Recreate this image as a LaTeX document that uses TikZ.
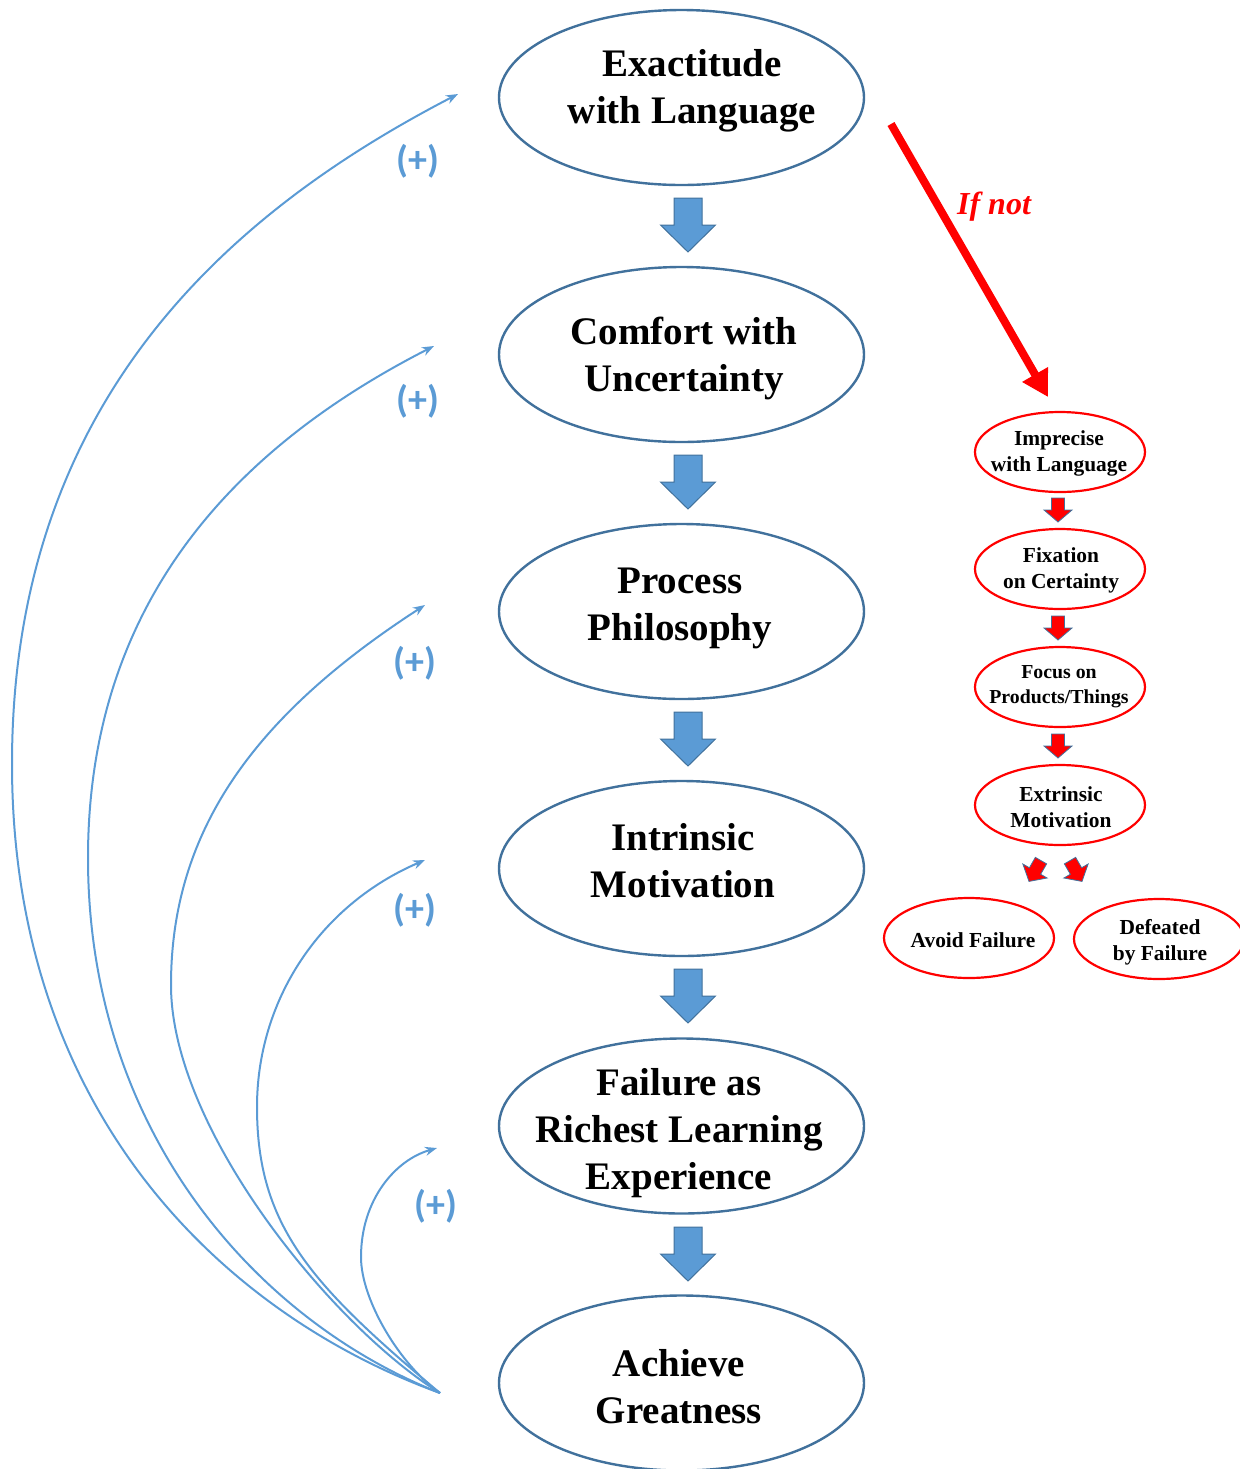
\documentclass[tikz,border=0pt]{standalone}
\usepackage{fontspec}
\setmainfont{Liberation Serif}
\newfontfamily\plusfont{Carlito}
\usetikzlibrary{shapes.geometric,arrows.meta}
\definecolor{arrowblue}{HTML}{5B9BD5}
\definecolor{edgeblue}{HTML}{41719C}
\definecolor{myred}{HTML}{FF0000}
\begin{document}
\begin{tikzpicture}[x=0.5pt,y=-0.5pt,
  mainell/.style={ellipse, draw=edgeblue, line width=1.2pt, fill=white,
    minimum width=182.5pt, minimum height=87.5pt, inner sep=0pt},
  maintext/.style={align=center, inner sep=0pt, font=\bfseries\fontsize{19.5}{23.5}\selectfont},
  redell/.style={ellipse, draw=myred, line width=1.1pt, fill=white,
    minimum width=85pt, minimum height=40pt, inner sep=0pt},
  redtext/.style={align=center, inner sep=0pt, font=\bfseries\fontsize{10.7}{13}\selectfont},
  loopline/.style={draw=arrowblue, line width=1pt, -{Stealth[length=6pt,width=4.5pt]}},
  plus/.style={text=arrowblue, inner sep=0pt, font=\plusfont\bfseries\fontsize{19}{22}\selectfont},
  bigdown/.pic={\path[fill=arrowblue, draw=edgeblue, line width=0.5pt]
    (-14,-27) -- (14,-27) -- (14,0) -- (27.5,0) -- (0,27) -- (-27.5,0) -- (-14,0) -- cycle;},
  reddown/.pic={\path[fill=myred, draw=edgeblue, line width=0.4pt]
    (-6.5,-12) -- (6.5,-12) -- (6.5,0) -- (14,0) -- (0,12) -- (-14,0) -- (-6.5,0) -- cycle;}
]
\path[use as bounding box] (0,0) rectangle (1240,1469);
\clip (0,0) rectangle (1240,1469);

% curves
\coordinate (s) at (440,1393);
\coordinate (c1) at (458,94);
\coordinate (c2) at (434,346);
\coordinate (c3) at (425,605);
\coordinate (c4) at (425,860);
\coordinate (c5) at (437,1148);
\draw[loopline] (s) .. controls (220,1313) and (12,1110) .. (12,764)
   .. controls (12,396) and (236,209) .. (c1);
\draw[loopline] (s) .. controls (255,1320) and (88,1130) .. (88,858)
   .. controls (88,590) and (250,440) .. (c2);
\draw[loopline] (s) .. controls (332,1326) and (171,1129) .. (171,985)
   .. controls (171,830) and (255,715) .. (c3);
\draw[loopline] (s) .. controls (311,1285) and (257,1226) .. (257,1107)
   .. controls (257,1000) and (320,905) .. (c4);
\draw[loopline] (s) .. controls (400,1365) and (361,1300) .. (361,1257)
   .. controls (361,1200) and (395,1160) .. (c5);

\node[plus] (p1) at (418,161) {(+)};
\node[plus] (p2) at (418,401) {(+)};
\node[plus] (p3) at (415,663) {(+)};
\node[plus] (p4) at (415,910) {(+)};
\node[plus] (p5) at (436,1206) {(+)};

% main ellipses
\node[mainell] (e1) at (681.5,97.5) {};
\node[mainell] (e2) at (681.5,354.5) {};
\node[mainell] (e3) at (681.5,611.5) {};
\node[mainell] (e4) at (681.5,868.5) {};
\node[mainell] (e5) at (681.5,1126) {};
\node[mainell] (e6) at (681.5,1383) {};
\node[maintext] (t1) at (692,90.5) {Exactitude\\with Language};
\node[maintext] (t2) at (684,358.5) {Comfort with\\Uncertainty};
\node[maintext] (t3) at (680,608) {Process\\Philosophy};
\node[maintext] (t4) at (683,861) {Intrinsic\\Motivation};
\node[maintext] (t5) at (679,1133) {Failure as\\Richest Learning\\Experience};
\node[maintext] (t6) at (679,1387) {Achieve\\Greatness};

\pic at (688,225) {bigdown};
\pic at (688,482) {bigdown};
\pic at (688,739) {bigdown};
\pic at (688,996) {bigdown};
\pic at (688,1254) {bigdown};

% red side
\node[redell] (r1) at (1060,452) {};
\node[redell] (r2) at (1060,569) {};
\node[redell] (r3) at (1060,687) {};
\node[redell] (r4) at (1060,805) {};
\node[redell] (r5) at (969,938) {};
\node[redell] (r6) at (1159,939) {};
\node[redtext] (rt1) at (1059,453) {Imprecise\\with Language};
\node[redtext] (rt2) at (1061,570) {Fixation\\on Certainty};
\node[redtext, font=\bfseries\fontsize{9.9}{12.5}\selectfont] (rt3) at (1059,687) {Focus on\\Products/Things};
\node[redtext] (rt4) at (1061,807) {Extrinsic\\Motivation};
\node[redtext] (rt5) at (973,940) {Avoid Failure};
\node[redtext] (rt6) at (1160,942) {Defeated\\by Failure};

\pic at (1058,510) {reddown};
\pic at (1058,628) {reddown};
\pic at (1058,746) {reddown};
\pic[rotate=-30] at (1035,871) {reddown};
\pic[rotate=30] at (1076,871) {reddown};

\coordinate (ra) at (891,124);
\coordinate (rb) at (1048,397);
\draw[draw=myred, line width=4pt, -{Triangle[length=13pt,width=14pt]}] (ra) -- (rb);
\node[text=myred, inner sep=0pt, font=\bfseries\itshape\fontsize{16}{19}\selectfont] (ifnot) at (994,207) {If not};
\end{tikzpicture}
\end{document}
